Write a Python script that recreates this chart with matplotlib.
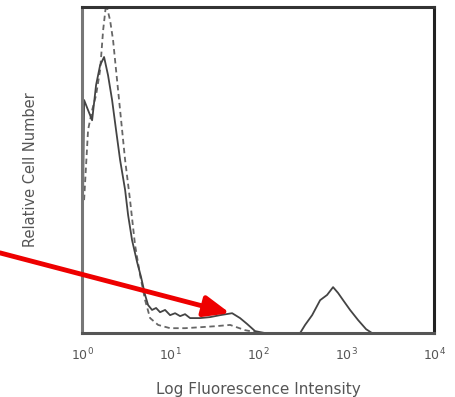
import numpy as np
import matplotlib
matplotlib.use("Agg")
import matplotlib.pyplot as plt

# histogram traces, x in log10(fluorescence), y in % of max count
solid_log = [0.0, 0.011, 0.023, 0.068, 0.114, 0.159, 0.205, 0.25, 0.295, 0.341, 0.386,
             0.432, 0.489, 0.523, 0.568, 0.625, 0.67, 0.716, 0.75, 0.795, 0.841, 0.886,
             0.943, 1.0, 1.057, 1.114, 1.17, 1.227, 1.341, 1.455, 1.568, 1.705, 1.795,
             1.875, 1.966, 2.08, 2.477, 2.534, 2.614, 2.705, 2.784, 2.852, 2.909, 2.966,
             3.045, 3.136, 3.227, 3.295]
solid_cnt = [30, 40.8, 71.5, 68.4, 65.3, 76.1, 82.2, 84.7, 79.1, 71.5, 62.3,
             53.1, 43.9, 36.2, 28.5, 21.8, 17.2, 11.7, 8.6, 7.1, 7.7, 6.4,
             7.1, 5.5, 6.1, 5.2, 5.8, 4.6, 4.6, 4.9, 5.5, 6.1, 4.6,
             2.8, 0.6, 0.0, 0.0, 2.5, 5.5, 10.1, 11.7, 14.1, 12.3, 10.1,
             7.1, 4.0, 1.2, 0.0]

dashed_log = [0.023, 0.068, 0.114, 0.159, 0.205, 0.239, 0.273, 0.318, 0.352, 0.386,
              0.432, 0.489, 0.545, 0.602, 0.659, 0.716, 0.773, 0.864, 1.0, 1.17,
              1.341, 1.511, 1.682, 1.852, 2.023]
dashed_cnt = [40.8, 62.3, 68.4, 73.0, 80.7, 92.9, 101, 96.0, 89.9, 80.7,
              68.4, 53.1, 40.8, 27.0, 17.8, 10.1, 4.6, 2.5, 1.5, 1.5,
              1.8, 2.1, 2.5, 0.9, 0.0]

arrow_tip = (48, 6.1)  # fluorescence, % max

fig = plt.figure(figsize=(4.56, 3.97), dpi=100)
ax = fig.add_axes([0.18, 0.161, 0.772, 0.821])

ax.plot(10 ** np.array(dashed_log), dashed_cnt, color="#666666", lw=1.3, ls=(0, (3, 2)))
ax.plot(10 ** np.array(solid_log), solid_cnt, color="#444444", lw=1.3)

ax.set_xscale("log")
ax.set_xlim(1, 1e4)
ax.set_ylim(0, 100)
ax.set_yticks([])
ax.set_xticks([1, 10, 100, 1000, 10000])
ax.minorticks_off()
ax.tick_params(axis="x", length=0, pad=10, labelsize=9, labelcolor="#555555")

for side, col in [("top", "#333333"), ("right", "#222222"),
                  ("left", "#777777"), ("bottom", "#555555")]:
    ax.spines[side].set_color(col)
    ax.spines[side].set_linewidth(2.2)

ax.set_xlabel("Log Fluorescence Intensity", fontsize=11, color="#555555", labelpad=13)
ax.set_ylabel("Relative Cell Number", fontsize=10.5, color="#555555", labelpad=32)

ax.annotate("", xy=arrow_tip, xycoords="data",
            xytext=(0.0, 0.363), textcoords="figure fraction",
            annotation_clip=False,
            arrowprops=dict(arrowstyle="-|>,head_length=1.1,head_width=0.45",
                            mutation_scale=14, color="#ee0000", lw=3.5,
                            shrinkA=0, shrinkB=0))

fig.savefig("out.png", dpi=100)
